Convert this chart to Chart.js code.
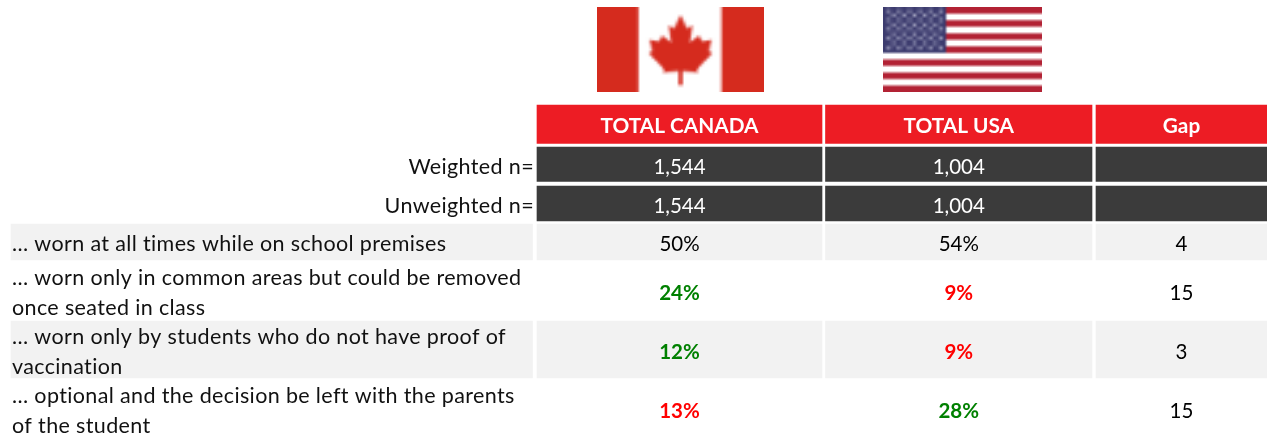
<!DOCTYPE html>
<html lang="en">
<head>
<meta charset="UTF-8">
<title>Masks at school: Canada vs USA</title>
<script src="https://cdn.jsdelivr.net/npm/chart.js"></script>
<style>
    body { margin: 0; background: #fff; }
    canvas { display: block; }
</style>
</head>
<body>
<canvas id="tableChart" width="1267" height="434"></canvas>
<script>
// table content
const columnHeaders = ["TOTAL CANADA", "TOTAL USA", "Gap"];
const sampleLabels = ["Weighted n=", "Unweighted n="];
const weightedN = [1544, 1004];
const unweightedN = [1544, 1004];
const statements = [
    ["… worn at all times while on school premises"],
    ["… worn only in common areas but could be removed", "once seated in class"],
    ["… worn only by students who do not have proof of", "vaccination"],
    ["… optional and the decision be left with the parents", "of the student"]
];
const canada = [50, 24, 12, 13];
const usa = [54, 9, 9, 28];
const gap = [4, 15, 3, 15];
const canadaSig = ["", "high", "high", "low"];
const usaSig = ["", "low", "low", "high"];

// layout, in canvas px (both scales run 1:1 with the canvas)
const labelCol = [11, 532.5];
const cols = [[537, 822], [825.5, 1092], [1096, 1267]];
const headerRow = [105, 143.5];
const sampleRows = [[147, 181.5], [186, 221]];
const bodyRows = [[224, 260], [263, 320], [321, 378], [382, 439]];
const bandRows = [0, 2];
const headerNudge = 2;
const sampleNudge = 3;
const bodyNudge = [2, 2, 3, 1];

const RED = "#ED1C24", DARK = "#3B3B3B", BAND = "#F2F2F2";
const sigColors = { high: "#008000", low: "#FF0000", "": "#000000" };
const FONT = "Lato, 'Open Sans', sans-serif";

function rowDataset(row, spans, color) {
    return {
        data: spans.map(s => ({ x: s, y: (row[0] + row[1]) / 2 })),
        backgroundColor: color,
        barThickness: row[1] - row[0],
        grouped: false,
        borderWidth: 0
    };
}

let datasets = [rowDataset(headerRow, cols, RED)];
sampleRows.forEach(r => datasets.push(rowDataset(r, cols, DARK)));
bandRows.forEach(i => datasets.push(rowDataset(bodyRows[i], [labelCol].concat(cols), BAND)));

// the source flags are soft bitmaps: paint big, shrink, then scale up on the table
function softDraw(ctx, src, smallW, smallH, x, y, w, h) {
    let small = document.createElement("canvas");
    small.width = smallW; small.height = smallH;
    let s = small.getContext("2d");
    s.imageSmoothingEnabled = true;
    s.imageSmoothingQuality = "high";
    s.drawImage(src, 0, 0, smallW, smallH);
    ctx.imageSmoothingEnabled = true;
    ctx.drawImage(small, x, y, w, h);
}

function drawCanadaFlag(ctx, x, y, w, h) {
    let off = document.createElement("canvas");
    off.width = 168; off.height = 86;
    let c = off.getContext("2d");
    c.scale(2, 2);
    c.fillStyle = "#fff";
    c.fillRect(0, 0, 84, 43);
    c.fillStyle = "#D52B1E";
    c.fillRect(0, 0, 20.8, 43);
    c.fillRect(62.6, 0, 21.4, 43);
    let leaf = [[42, 4], [38.5, 11], [35.5, 9.5], [37, 18.5], [32, 15], [30, 18], [25, 17], [26.5, 23], [24.5, 24],
        [33, 32.5], [32.5, 34.5], [41, 33.5], [41, 41], [43, 41], [43, 33.5], [51.5, 34.5], [51, 32.5],
        [59.5, 24], [57.5, 23], [59, 17], [54, 18], [52, 15], [47, 18.5], [48.5, 9.5], [45.5, 11]];
    c.beginPath();
    leaf.forEach((p, i) => {
        let px = 42 + (p[0] - 42) * 0.92, py = 4 + (p[1] - 4) * 0.96;
        i ? c.lineTo(px, py) : c.moveTo(px, py);
    });
    c.closePath();
    c.fill();
    softDraw(ctx, off, 64, 33, x, y, w, h);
}

function drawUsaFlag(ctx, x, y, w, h) {
    let off = document.createElement("canvas");
    off.width = 192; off.height = 104;
    let c = off.getContext("2d");
    c.fillStyle = "#fff";
    c.fillRect(0, 0, 192, 104);
    c.fillStyle = "#B22234";
    for (let i = 0; i < 13; i += 2) c.fillRect(0, i * 8, 192, 8);
    c.fillStyle = "#3C3B6E";
    c.fillRect(0, 0, 76, 56);
    c.fillStyle = "#B4B6CE";
    for (let r = 0; r < 9; r++) {
        let n = r % 2 ? 5 : 6;
        for (let k = 0; k < n; k++) {
            let sx = (r % 2 ? 10.5 : 4.5) + k * 12.6;
            c.fillRect(sx, 3 + r * 5.6, 4.5, 3.4);
        }
    }
    softDraw(ctx, off, 48, 26, x, y, w, h);
}

const tableText = {
    id: "tableText",
    afterDatasetsDraw(chart) {
        const ctx = chart.ctx, sx = chart.scales.x, sy = chart.scales.y;
        const colCenter = i => sx.getPixelForValue((cols[i][0] + cols[i][1]) / 2);
        const rowCenter = r => sy.getPixelForValue((r[0] + r[1]) / 2);

        function text(str, x, y, color, weight, align, wide) {
            let size = wide ? 21.5 : (weight === "bold" && color === "#fff" ? 20.8 : 20.5);
            ctx.font = weight + " " + size + "px " + FONT;
            ctx.letterSpacing = wide ? "0.36px" : "0px";
            ctx.fillStyle = color;
            ctx.textAlign = align || "center";
            ctx.textBaseline = "middle";
            ctx.fillText(str, x, y);
        }

        ctx.save();
        drawCanadaFlag(ctx, sx.getPixelForValue(597), sy.getPixelForValue(7), 167, 85);
        drawUsaFlag(ctx, sx.getPixelForValue(883), sy.getPixelForValue(7), 159, 85);

        columnHeaders.forEach((h, i) => text(h, colCenter(i), rowCenter(headerRow) + headerNudge, "#fff", "bold"));

        [weightedN, unweightedN].forEach((vals, r) => {
            let cy = rowCenter(sampleRows[r]) + sampleNudge;
            text(sampleLabels[r], sx.getPixelForValue(534), cy, "#111", "normal", "right", true);
            vals.forEach((v, i) => text(v.toLocaleString("en-US"), colCenter(i), cy, "#fff", "normal"));
        });

        statements.forEach((lines, r) => {
            let cy = rowCenter(bodyRows[r]) + bodyNudge[r];
            lines.forEach((line, k) => {
                let ly = cy + (k - (lines.length - 1) / 2) * 30;
                text(line, sx.getPixelForValue(12), ly, "#111", "normal", "left", true);
            });
            text(canada[r] + "%", colCenter(0), cy, sigColors[canadaSig[r]], canadaSig[r] ? "bold" : "normal");
            text(usa[r] + "%", colCenter(1), cy, sigColors[usaSig[r]], usaSig[r] ? "bold" : "normal");
            text(String(gap[r]), colCenter(2), cy, "#000", "normal");
        });
        ctx.restore();
    }
};

new Chart(document.getElementById("tableChart"), {
    type: "bar",
    data: { datasets: datasets },
    options: {
        indexAxis: "y",
        responsive: false,
        animation: false,
        events: [],
        layout: { padding: 0 },
        plugins: { legend: { display: false }, tooltip: { enabled: false } },
        scales: {
            x: { type: "linear", min: 0, max: 1267, display: false, offset: false },
            y: { type: "linear", min: 0, max: 434, reverse: true, display: false, offset: false }
        }
    },
    plugins: [tableText]
});
</script>
</body>
</html>
